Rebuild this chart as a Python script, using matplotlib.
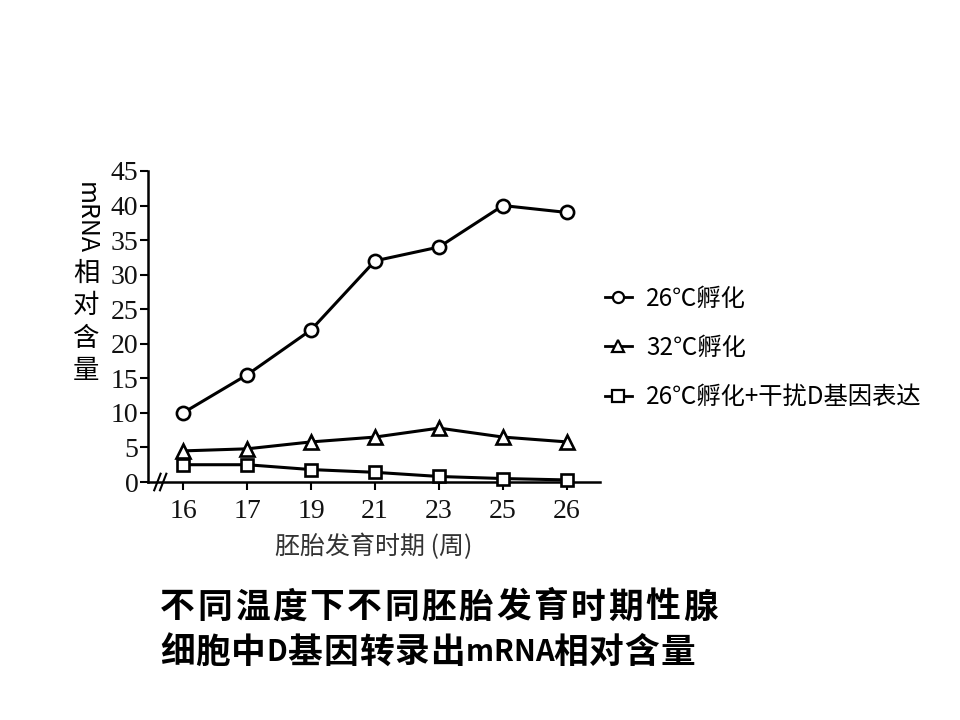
import matplotlib
matplotlib.use("Agg")
import matplotlib.pyplot as plt
from matplotlib.lines import Line2D

weeks = ["16", "17", "19", "21", "23", "25", "26"]
s26 = [10, 15.5, 22, 32, 34, 40, 39]
s32 = [4.5, 4.8, 5.8, 6.5, 7.8, 6.5, 5.8]
s26i = [2.5, 2.5, 1.8, 1.4, 0.8, 0.5, 0.3]
labels = ["26℃孵化", "32℃孵化", "26℃孵化+干扰D基因表达"]
yticks = [0, 5, 10, 15, 20, 25, 30, 35, 40, 45]
caption1 = "不同温度下不同胚胎发育时期性腺"
caption2 = "细胞中D基因转录出mRNA相对含量"

CJK = ["Noto Sans CJK SC", "DejaVu Sans"]
SERIF = ["Liberation Serif", "Noto Sans CJK SC"]

fig = plt.figure(figsize=(9.6, 7.2), dpi=100)
ax = fig.add_axes([148/960, 1-482/720, (600-148)/960, (482-171)/720])

x = list(range(len(weeks)))
kw = dict(color="black", lw=2.2, markerfacecolor="white", markeredgecolor="black",
          markeredgewidth=1.9, markersize=9.5, clip_on=False, zorder=3)
ax.plot(x, s26, marker="o", **kw)
ax.plot(x, s32, marker="^", **kw)
ax.plot(x, s26i, marker="s", **dict(kw, markersize=8))

ax.set_xlim(-35/64, 6 + 33/64)
ax.set_ylim(0, 45)
ax.set_xticks(x)
ax.set_xticklabels(weeks)
ax.set_yticks(yticks)
for sp in ["top", "right"]:
    ax.spines[sp].set_visible(False)
for sp in ["left", "bottom"]:
    ax.spines[sp].set_linewidth(1.8)
ax.tick_params(axis="both", direction="out", length=6, width=1.5, labelsize=20,
               labelcolor="#111111")
ax.tick_params(axis="x", pad=6)
ax.tick_params(axis="y", pad=1)
for lab in ax.get_xticklabels() + ax.get_yticklabels():
    lab.set_family(SERIF)

# axis break marks
for dx in (0.0, 0.09):
    ax.plot([-0.45 + dx, -0.35 + dx], [-1.2, 1.2], color="black", lw=1.5, clip_on=False)

ax.set_xlabel("胚胎发育时期 (周)", family=CJK, fontsize=18, color="#333333", labelpad=7)

# y label: vertical text
fig.text(86/960, 1-218/720, "mRNA", rotation=-90, ha="center", va="center",
         family=CJK, fontsize=18)
fig.text(86/960, 1-322/720, "相\n对\n含\n量", ha="center", va="center",
         family=CJK, fontsize=19, linespacing=1.25)

handles = [Line2D([], [], color="black", lw=2, marker=m, markersize=8,
                  markerfacecolor="white", markeredgecolor="black", markeredgewidth=1.6)
           for m in ["o", "^", "s"]]
fig.legend(handles, labels, loc="upper left", bbox_to_anchor=(583/960, 1-264/720),
           frameon=False, prop={"family": CJK, "size": 17.5}, handlelength=1.1,
           handletextpad=0.6, labelspacing=0.95)

renderer = fig.canvas.get_renderer()

def spaced(text, x0, yc, size, gap, latin_size):
    xp = x0
    for ch in text:
        latin = ch.isascii()
        t = fig.text(xp / 960, 1 - yc / 720, ch, ha="left", va="center",
                     family=CJK, fontsize=latin_size if latin else size,
                     fontweight="bold")
        w = t.get_window_extent(renderer).width
        xp += w + (0.0 if latin else gap)

spaced(caption1, 160, 607, 25, 2.6, 22)
spaced(caption2, 160, 652, 25, 0.8, 21)

fig.savefig("out.png", dpi=100)
